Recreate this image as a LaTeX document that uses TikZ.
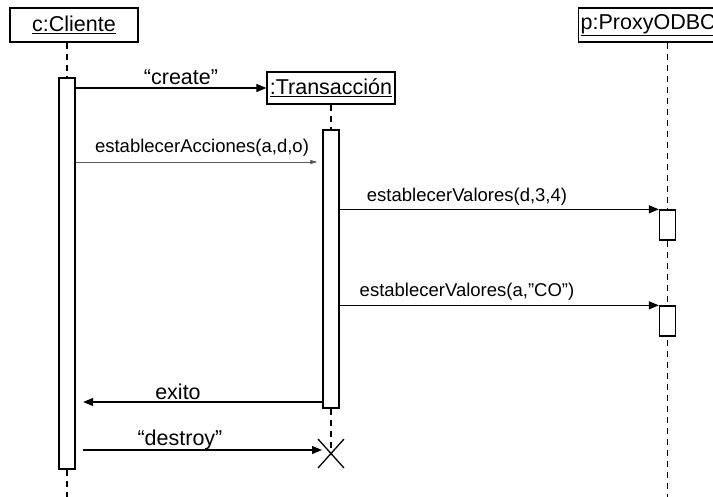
\documentclass[tikz,border=0pt]{standalone}
\usepackage{fontspec}
\setmainfont{Liberation Sans}
\usetikzlibrary{arrows.meta,positioning,backgrounds}

\begin{document}
\begin{tikzpicture}[x=1pt, y=-1pt,
obj/.style={draw, line width=1.3pt, minimum width=128pt, inner sep=2pt, font=\fontsize{21.5}{24}\selectfont},
act/.style={draw, fill=white, line width=1.3pt, minimum width=16pt, inner sep=0pt},
life/.style={line width=1.3pt, dash pattern=on 6pt off 5pt},
msg/.style={line width=1.2pt, -{Triangle[length=10pt,width=8pt]}},
call/.style={line width=0.7pt, draw=black!65, -{Triangle[length=7pt,width=4pt]}},
big/.style={font=\fontsize{21.5}{24}\selectfont, inner sep=0pt},
small/.style={font=\fontsize{18.5}{21}\selectfont, inner sep=0pt}]

\useasboundingbox (0,0) rectangle (713,497);

\node[obj, minimum height=34pt] (cli) at (74,25) {\underline{c:Cliente}};
\node[obj, minimum height=32pt] (trans) at (331,88) {\underline{:Transacción}};
\node[obj, minimum height=34pt, anchor=west] (proxy) at (578,25) {\underline{p:ProxyODBC}};

\node[act, minimum height=391pt] (actC) at (67,273.5) {};
\node[act, minimum height=278pt] (actT) at (331,269) {};
\node[act, minimum height=30pt] (actP1) at (667.5,225) {};
\node[act, minimum height=30pt] (actP2) at (667.5,321) {};

\coordinate (bottom) at (0,497);
\coordinate (xmark) at (331,453.5);
\coordinate (m2) at (0,162);
\coordinate (m5) at (0,402);
\coordinate (m6) at (0,450);

\begin{scope}[on background layer]
\draw[life] (cli.south -| actC) -- (actC.north);
\draw[life] (actC.south) -- (actC |- bottom);
\draw[life] (trans.south) -- (actT.north);
\draw[life] (actT.south) -- (xmark);
\draw[life] (proxy.south -| actP1) -- (actP1 |- bottom);
\end{scope}

% messages
\draw[msg] (actC.east |- trans.west) -- (trans.west);
\node[big] (lcreate) at (181,77) {“create”};
\draw[call, shorten >=5pt] (actC.east |- m2) -- (actT.west |- m2);
\node[small] (lacc) at (202,148) {establecerAcciones(a,d,o)};
\draw[msg] (actT.east |- actP1.north) -- (actP1.north west);
\node[small] (lval1) at (467,197) {establecerValores(d,3,4)};
\draw[msg] (actT.east |- actP2.north) -- (actP2.north west);
\node[small] (lval2) at (467,292) {establecerValores(a,”CO”)};
\draw[msg, shorten >=7.5pt] (actT.west |- m5) -- (actC.east |- m5);
\node[big] (lexito) at (178,392) {exito};
\draw[msg, shorten <=7pt, shorten >=9pt] (actC.east |- m6) -- (xmark |- m6);
\node[big] (ldestroy) at (180,440) {“destroy”};

\draw[line width=1.3pt] (xmark) +(-13,-14.5) -- +(13,14.5)
  (xmark) +(-13,14.5) -- +(13,-14.5);
%
\end{tikzpicture}
\end{document}
